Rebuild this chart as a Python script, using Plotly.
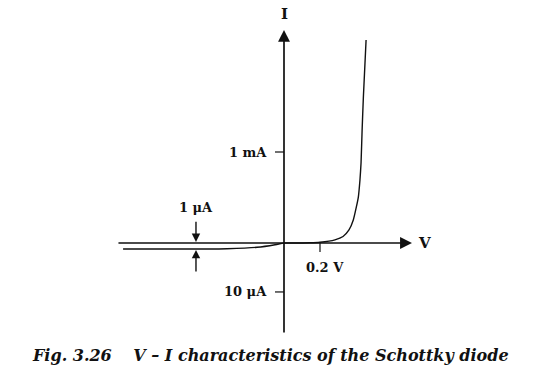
import plotly.graph_objects as go

# ---- data ----
fwd_v = [0.0, 0.067, 0.144, 0.2, 0.283, 0.328, 0.361, 0.385, 0.402, 0.413, 0.422,
         0.428, 0.434, 0.441, 0.456]
fwd_i_ma = [0.0, 0.0, 0.002, 0.008, 0.035, 0.071, 0.143, 0.253, 0.396, 0.505, 0.692,
            0.879, 1.242, 1.604, 2.231]
rev_v = [-0.894, -0.5, -0.317, -0.15, -0.05, -0.006, 0.0]
rev_i_ua = [-1.22, -1.22, -1.16, -0.88, -0.35, -0.02, 0.0]

y_ticks = [1.0, -10.0]            # 1 mA (forward), 10 uA (reverse)
y_tick_labels = ["1 mA", "10 μA"]
x_ticks = [0.2]
x_tick_labels = ["0.2 V"]
sat_label = "1 μA"
sat_current_ua = -1.22
caption = "Fig. 3.26\u2003 V – I characteristics of the Schottky diode"

# reverse quadrant drawn on its own (broken) scale: 10 uA <-> 0.538 units
UA_SCALE = 0.538 / 10.0

def rev_y(i_ua):
    return i_ua * UA_SCALE

INK = "#111111"
SERIF = "DejaVu Serif"

fig = go.Figure()
fig.add_trace(go.Scatter(x=fwd_v, y=fwd_i_ma, mode="lines",
                         line=dict(color=INK, width=1.4, shape="spline", smoothing=0.5),
                         hoverinfo="skip"))
fig.add_trace(go.Scatter(x=rev_v, y=[rev_y(v) for v in rev_i_ua], mode="lines",
                         line=dict(color=INK, width=1.4, shape="spline", smoothing=0.6),
                         hoverinfo="skip"))

ann = []
# axes with arrow heads
x_tail, x_tip = -0.928, 0.711
y_tail, y_tip = -1.0, 2.341
ann.append(dict(x=x_tip, y=0, ax=x_tail, ay=0, axref="x", ayref="y", xref="x", yref="y",
                text="", showarrow=True, arrowhead=2, arrowsize=1.4, arrowwidth=1.7,
                arrowcolor=INK, standoff=0, startstandoff=0))
ann.append(dict(x=0, y=y_tip, ax=0, ay=y_tail, axref="x", ayref="y", xref="x", yref="y",
                text="", showarrow=True, arrowhead=2, arrowsize=1.4, arrowwidth=1.7,
                arrowcolor=INK, standoff=0, startstandoff=0))
ann.append(dict(x=x_tip + 0.07, y=0, xref="x", yref="y", text="<b>V</b>", showarrow=False,
                font=dict(family=SERIF, size=15, color=INK)))
ann.append(dict(x=0, y=y_tip + 0.18, xref="x", yref="y", text="<b>I</b>", showarrow=False,
                font=dict(family=SERIF, size=15, color=INK)))

shapes = []
# y ticks
y_positions = [y_ticks[0], rev_y(y_ticks[1])]
for yp, lab in zip(y_positions, y_tick_labels):
    shapes.append(dict(type="line", x0=-0.05, x1=0, y0=yp, y1=yp, xref="x", yref="y",
                       line=dict(color=INK, width=1.2)))
    ann.append(dict(x=-0.085, y=yp, xref="x", yref="y", text="<b>" + lab + "</b>",
                    showarrow=False, xanchor="right",
                    font=dict(family=SERIF, size=13, color=INK)))
# x ticks
for xp, lab in zip(x_ticks, x_tick_labels):
    shapes.append(dict(type="line", x0=xp, x1=xp, y0=0, y1=-0.1, xref="x", yref="y",
                       line=dict(color=INK, width=1.2)))
    ann.append(dict(x=xp + 0.03, y=-0.265, xref="x", yref="y", text="<b>" + lab + "</b>",
                    showarrow=False, font=dict(family=SERIF, size=13, color=INK)))

# saturation current markers
sx = -0.489
ann.append(dict(x=sx, y=0, ax=sx, ay=0.25, axref="x", ayref="y", xref="x", yref="y",
                text="", showarrow=True, arrowhead=2, arrowsize=1.2, arrowwidth=1.4,
                arrowcolor=INK, standoff=1, startstandoff=0))
ann.append(dict(x=sx, y=rev_y(sat_current_ua), ax=sx, ay=-0.33, axref="x", ayref="y",
                xref="x", yref="y", text="", showarrow=True, arrowhead=2, arrowsize=1.2,
                arrowwidth=1.4, arrowcolor=INK, standoff=1, startstandoff=0))
ann.append(dict(x=sx, y=0.385, xref="x", yref="y", text="<b>" + sat_label + "</b>",
                showarrow=False, font=dict(family=SERIF, size=13, color=INK)))

# caption
ann.append(dict(x=0.505, y=(379 - 355) / 379, xref="paper", yref="paper",
                yanchor="middle", xanchor="center",
                text="<b><i>" + caption + "</i></b>",
                showarrow=False, font=dict(family=SERIF, size=16, color=INK)))

fig.update_layout(
    width=536, height=379, autosize=False,
    margin=dict(l=0, r=0, t=0, b=0),
    paper_bgcolor="white", plot_bgcolor="white",
    showlegend=False,
    xaxis=dict(range=[-284/180, 252/180], visible=False, fixedrange=True),
    yaxis=dict(range=[-136/91, 243/91], visible=False, fixedrange=True),
    annotations=ann, shapes=shapes,
)
fig.write_html("out.html")
